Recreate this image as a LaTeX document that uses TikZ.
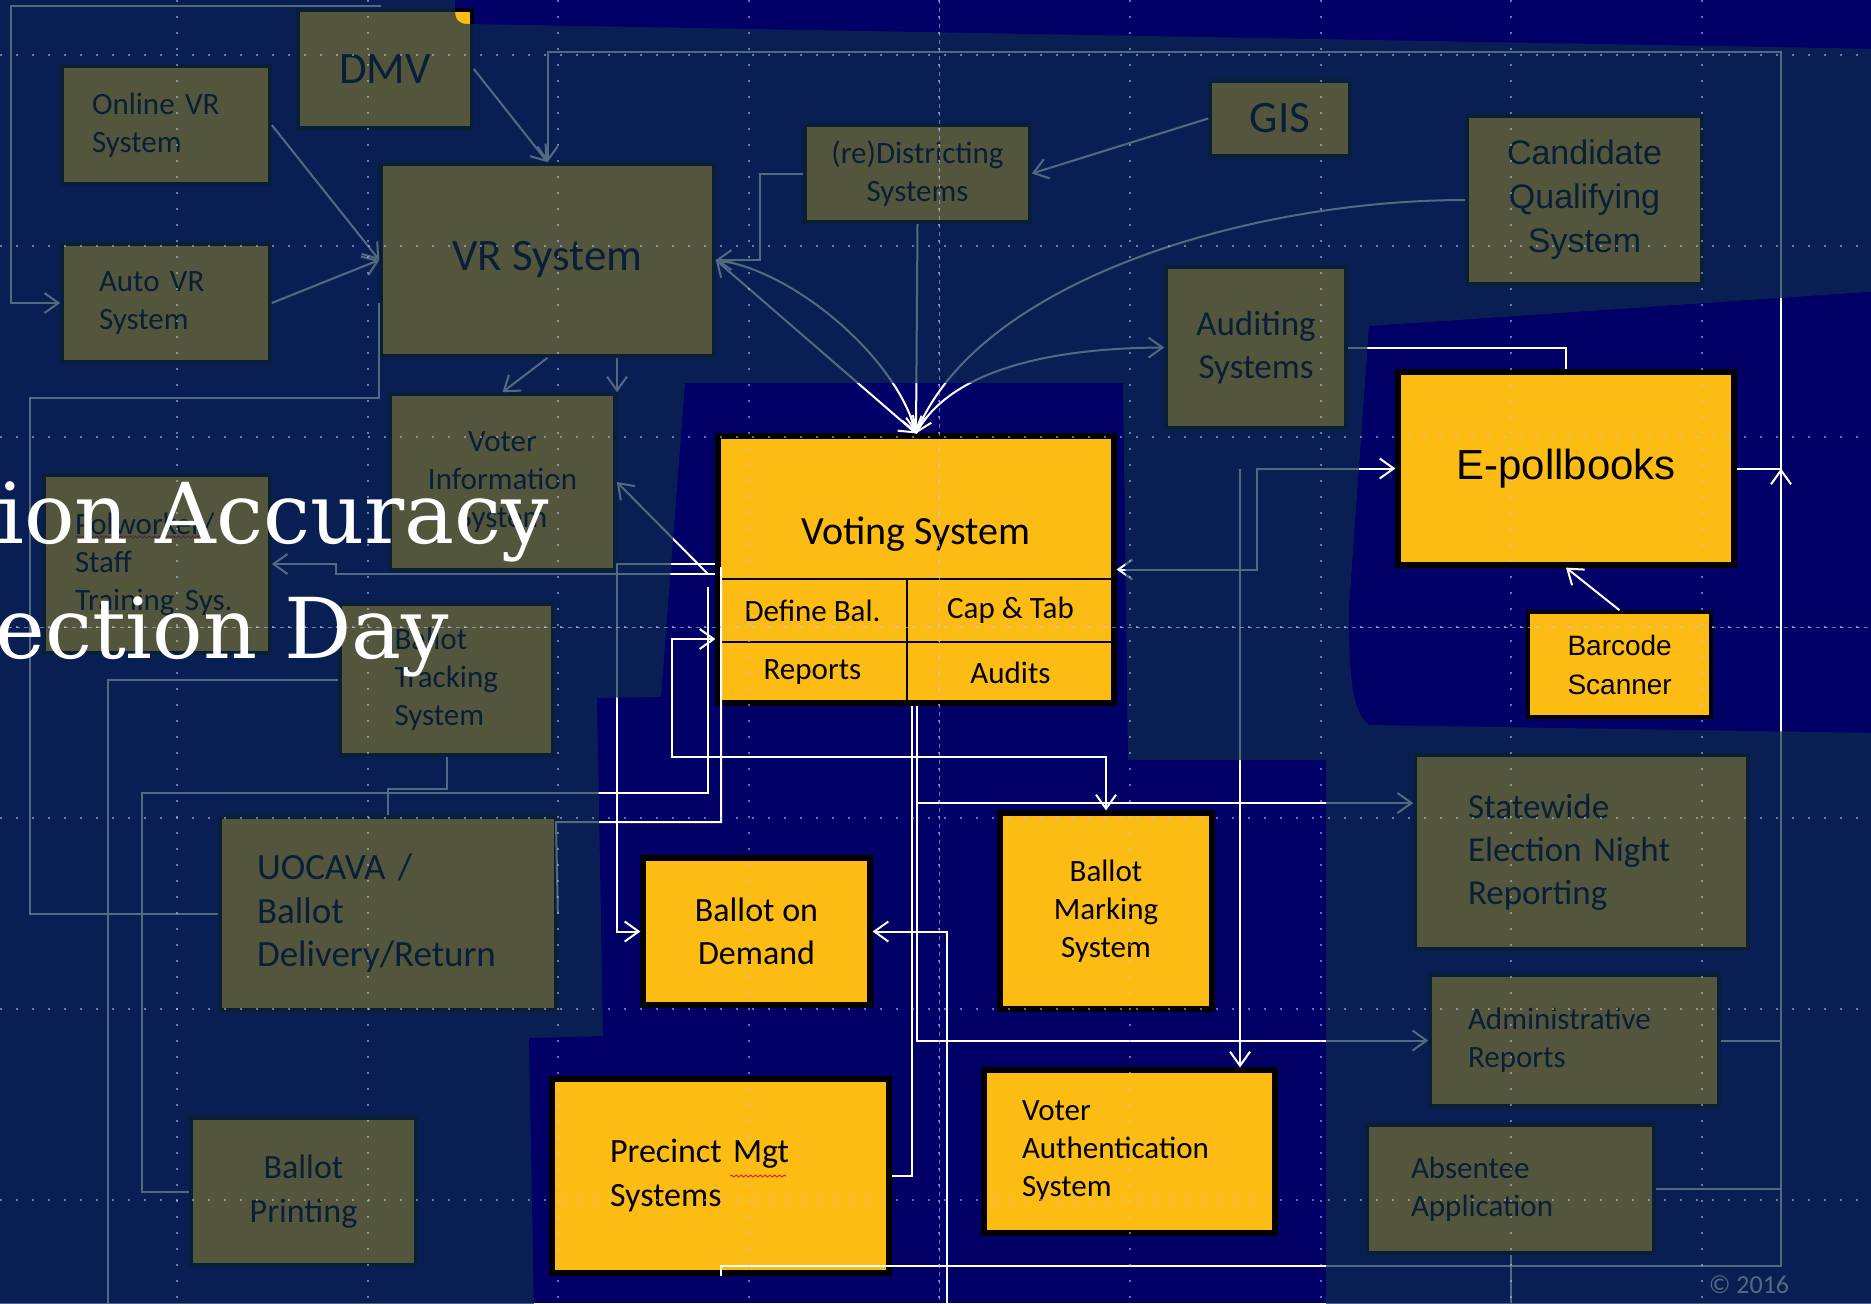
\documentclass[tikz,border=0pt]{standalone}
\usepackage{fontspec}
\setmainfont{Carlito}
\newfontfamily\arialfont{Liberation Sans}
\newfontfamily\headfont{DejaVu Serif}
\usepackage{tikz}
\usetikzlibrary{arrows.meta,positioning,calc,decorations.pathmorphing}
\definecolor{slidenavy}{HTML}{000066}
\definecolor{dimblue}{HTML}{0E2C4E}
\definecolor{boxyellow}{HTML}{FDBC13}
\definecolor{gridgray}{HTML}{BEC8E1}
\definecolor{spellred}{HTML}{E02828}

\begin{document}
\begin{tikzpicture}[x=0.5pt,y=-0.5pt,>={Straight Barb[length=7pt,width=10pt]},
  every node/.style={inner sep=0pt,text=black},
  sysbox/.style={draw=black,fill=boxyellow,line width=1.8pt,align=center},
  hotbox/.style={sysbox,line width=2.6pt},
  cellbox/.style={draw=black,line width=1.3pt,font=\fontsize{15.5}{19}\selectfont},
  txtsm/.style={font=\fontsize{15.5}{19}\selectfont},
  txtmd/.style={font=\fontsize{17.5}{21.5}\selectfont},
  txtlg/.style={font=\fontsize{22.5}{27}\selectfont},
  txtar/.style={font=\arialfont\fontsize{17}{22}\selectfont},
  link/.style={draw=white,line width=1pt},
  spell/.style={spellred,line width=.5pt,decorate,decoration={snake,amplitude=.5pt,segment length=2.4pt}},
  gridln/.style={gridgray,line width=1pt,dash pattern=on 1pt off 7pt,opacity=.55},
  guideln/.style={gridgray,line width=.4pt,dash pattern=on 2pt off 2pt,opacity=.55},
  headline/.style={text=white,font=\headfont\fontsize{42}{50}\selectfont,anchor=base west}]
\useasboundingbox (0,0) rectangle (1871,1303);
\clip (0,0) rectangle (1871,1303);
\fill[slidenavy] (0,0) rectangle (1871,1303);

% registration side
\node[sysbox,txtlg,minimum width=87pt,minimum height=59pt] (dmv) at (385,69) {DMV};
\node[sysbox,txtsm,align=left,text width=74pt,minimum width=104pt,minimum height=59pt] (onlinevr) at (166,125) {Online VR\\System};
\node[sysbox,txtsm,align=left,text width=67pt,minimum width=104pt,minimum height=59pt] (autovr) at (166,303) {Auto VR\\System};
\node[sysbox,txtlg,minimum width=166.5pt,minimum height=96pt] (vrsys) at (547.5,260) {VR System};
\node[sysbox,txtsm,minimum width=112.5pt,minimum height=88pt] (voterinfo) at (502.5,482) {Voter\\Information\\System};
\node[sysbox,txtsm,align=left,text width=82pt,minimum width=113pt,minimum height=89pt] (pollwkr) at (157,564) {Polworker/\\Staff\\Training Sys.};
\node[sysbox,txtsm,align=left,text width=52pt,minimum width=106.5pt,minimum height=75.5pt] (baltrack) at (446.5,679.5) {Ballot\\Tracking\\System};
\node[sysbox,font=\fontsize{18.5}{21.7}\selectfont,align=left,text width=131pt,minimum width=168pt,minimum height=96.5pt] (uocava) at (388,913.5) {UOCAVA /\\Ballot\\Delivery/Return};
\node[sysbox,font=\fontsize{17}{21.7}\selectfont,minimum width=112.5pt,minimum height=73.5pt] (balprint) at (303.5,1191.5) {Ballot\\Printing};

% districting, candidates, audits
\node[sysbox,txtsm,minimum width=112.5pt,minimum height=48.5pt] (redist) at (917.5,173.5) {(re)Districting\\Systems};
\node[sysbox,txtlg,minimum width=70pt,minimum height=37.5pt] (gis) at (1280,118.5) {GIS};
\node[sysbox,txtar,minimum width=117.5pt,minimum height=84pt] (candqual) at (1584.5,200) {Candidate\\Qualifying\\System};
\node[sysbox,txtmd,minimum width=90pt,minimum height=80.5pt] (audit) at (1256,347.5) {Auditing\\Systems};

% voting system and polling place
\node[hotbox,minimum width=198pt,minimum height=133.5pt] (vsys) at (916,569.5) {};
\node[font=\fontsize{20}{24}\selectfont] (vstitle) at (916,534) {Voting System};
\node[cellbox,minimum width=94.5pt,minimum height=31.5pt] (defbal) at (812.5,610.5) {Define Bal.};
\node[cellbox,minimum width=103.5pt,minimum height=31.5pt] (captab) at (1010.5,610.5) {Cap \& Tab};
\node[cellbox,minimum width=94.5pt,minimum height=30.5pt] (reports) at (812.5,672.5) {Reports};
\node[cellbox,minimum width=103.5pt,minimum height=30.5pt] (audits) at (1010.5,672.5) {Audits};
\node[hotbox,font=\arialfont\fontsize{21}{25}\selectfont,minimum width=168pt,minimum height=96.5pt] (epoll) at (1566,468.5) {E-pollbooks};
\node[sysbox,font=\arialfont\fontsize{14}{19.5}\selectfont,align=left,text width=52pt,minimum width=91.5pt,minimum height=52.5pt] (barcode) at (1619.5,664.5) {Barcode\\Scanner};
\node[hotbox,font=\fontsize{17}{21.7}\selectfont,minimum width=113.5pt,minimum height=73.5pt] (bod) at (756.5,931.5) {Ballot on\\Demand};
\node[hotbox,txtsm,minimum width=106pt,minimum height=98pt] (balmark) at (1106,911) {Ballot\\Marking\\System};
\node[hotbox,font=\fontsize{17}{22}\selectfont,align=left,text width=110.5pt,minimum width=168.5pt,minimum height=97pt] (precinct) at (720.5,1176) {Precinct Mgt\\Systems};
\node[hotbox,txtsm,align=left,text width=107.5pt,minimum width=145.5pt,minimum height=81.5pt] (voterauth) at (1129.5,1151.5) {Voter\\Authentication\\System};

% reporting
\node[sysbox,txtmd,align=left,text width=113.5pt,minimum width=166.5pt,minimum height=97pt] (enr) at (1581.5,852) {Statewide\\Election Night\\Reporting};
\node[sysbox,txtsm,align=left,text width=106.5pt,minimum width=144.5pt,minimum height=65.5pt] (adminrep) at (1574.5,1040.5) {Administrative\\Reports};
\node[sysbox,txtsm,align=left,text width=99.5pt,minimum width=143.5pt,minimum height=64pt] (absentee) at (1510.5,1189) {Absentee\\Application};

% links into VR
\coordinate (topfeed) at (381,6);
\draw[link,->] (topfeed) -- (11,6) |- (autovr.west);
\draw[link,->] (onlinevr.east) -- (vrsys.west);
\draw[link,->] (autovr.east) -- (vrsys.west);
\draw[link,->] (dmv.east) -- (vrsys.north);
\coordinate (rbus) at (1781,52);
\draw[link,->] (epoll.east) -| (rbus) -| (vrsys.north);
\draw[link,->] (precinct.south) -- ++(0,-10) -| (epoll.east -| rbus);
\draw[link] (adminrep.east) -- (adminrep.east -| rbus);
\draw[link] (absentee.east) -- (absentee.east -| rbus);
\coordinate (absfeed) at (1510.5,1313);
\draw[link] (absentee.south) -- (absfeed);

% links round the voting system
\draw[link,->] (redist.south) -- (vsys.north);
\draw[link,->] (redist.west) -- ++(-43,0) |- (vrsys.east);
\draw[link,->] (gis.west) -- (redist.east);
\draw[link,<->] (vrsys.east) -- (vsys.north);
\draw[link,->] (vrsys.east) .. controls (790,268) and (895,355) .. (vsys.north);
\draw[link,->] (candqual.west) .. controls (1250,200) and (980,280) .. (vsys.north);
\draw[link,->] (vsys.north) .. controls (950,370) and (1050,348) .. (audit.west);
\draw[link] (audit.east) -| (epoll.north);
\draw[link,->] (barcode.north) -- (epoll.south);
\draw[link,<->] (vsys.east) -- (1257,569.5) |- (epoll.west);
\draw[link,->] (epoll.west -| 1240,0) -- (voterauth.north -| 1240,0);

% west side of the voting system
\draw[link,->] (vsys.west |- 0,574) -- (336,574) |- (pollwkr.east);
\coordinate (vtap) at (708,574);
\draw[link,->] (vtap) -- (voterinfo.east);
\draw[link,->] (vsys.west |- 0,564) -- (617,564) |- (bod.west);
\coordinate (btap) at (708,587);
\draw[link] (btap) -- (708,793) -- (142,793) |- (balprint.west);
\draw[link] (uocava.east) -- (556,822) -- (721,822) -- (721,567);
\draw[link,<->] (vsys.west |- 0,639) -- (672,639) -- (672,757) -| (balmark.north);

% south side of the voting system
\draw[link] (precinct.east) -| (vsys.south -| 912,0);
\coordinate (vbus) at (vsys.south -| 917,0);
\draw[link,->] (vbus) |- (adminrep.west);
\draw[link,->] (vbus |- 0,803) -- (enr.west |- 0,803);
\coordinate (bodfeed) at (947,1313);
\draw[link,->] (bodfeed) |- (bod.east);

% VR to the west boxes
\draw[link,->] (vrsys.south) -- (voterinfo.north);
\draw[link,->] (vrsys.south -| 617,0) -- (voterinfo.north -| 617,0);
\draw[link] (vrsys.west |- 0,303) -- (vrsys.west |- 0,398) -- (30,398) |- (uocava.west);
\coordinate (btfeed) at (108,1313);
\draw[link] (baltrack.west) -| (btfeed);
\draw[link] (baltrack.south) -- ++(0,32) -| (uocava.north);

\node[text=white,font=\fontsize{13}{15}\selectfont] (copyr) at (1749,1285) {\textcopyright\ 2016};
\draw[spell] (76,537) -- (206,537);
\draw[spell] (730,1176) -- (786,1176);

% dim everything but the spotlight
\fill[dimblue,fill opacity=.71,even odd rule] (-10,-10) rectangle (1881,1313)
  (455,-10) -- (455,10) .. controls (455,20) and (459,24) .. (468,24) -- (1881,49) -- (1881,-10) -- cycle
  (1369,326) -- (1881,291) -- (1881,733) -- (1369,725) .. controls (1352,712) and (1349,680) .. (1349,606) -- cycle
  (685,383) -- (1123,383) -- (1128,760) -- (1326,760) -- (1326,1313) -- (534,1313) -- (529,1038) -- (603,1036) -- (597,698) -- (661,697) -- cycle;

% grid
\foreach \gx in {177,367.6,...,1800} \draw[gridln] (\gx,0) -- (\gx,1303);
\foreach \gy in {55,245.8,...,1300} \draw[gridln] (0,\gy) -- (1871,\gy);
\draw[guideln] (939.4,0) -- (939.4,1303);
\draw[guideln] (0,627.4) -- (1871,627.4);

\node[headline] (head1) at (-3,543) {ion Accuracy};
\node[headline] (head2) at (-5,658) {ection Day};
\end{tikzpicture}
\end{document}
